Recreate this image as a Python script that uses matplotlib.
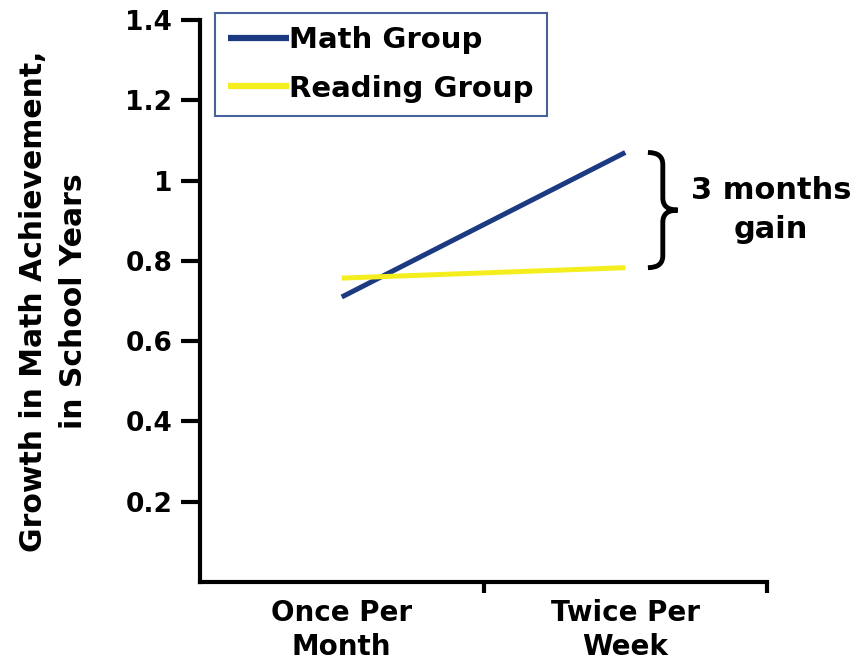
import matplotlib
matplotlib.use("Agg")
import matplotlib.pyplot as plt
from matplotlib.path import Path
from matplotlib.patches import PathPatch

# data
groups = ["Math Group", "Reading Group"]
math_growth = [0.71, 1.07]
reading_growth = [0.757, 0.783]
categories = ["Once Per\nMonth", "Twice Per\nWeek"]
yticks = [0.2, 0.4, 0.6, 0.8, 1.0, 1.2, 1.4]
ytick_labels = ["0.2", "0.4", "0.6", "0.8", "1", "1.2", "1.4"]
gain_label = "3 months\ngain"

navy = "#1b3a82"
yellow = "#f4ee1e"

plt.rcParams["font.family"] = ["DejaVu Sans"]
plt.rcParams["font.weight"] = "bold"

fig = plt.figure(figsize=(8.5, 6.64), dpi=100)
ax = fig.add_axes([200 / 850, 82 / 664, 567 / 850, 562 / 664])

# categories centred at 0.5 and 1.5, boundaries at 0, 1, 2
x = [0.5, 1.5]
l1, = ax.plot(x, math_growth, color=navy, lw=3.6, solid_capstyle="butt")
l2, = ax.plot(x, reading_growth, color=yellow, lw=3.6, solid_capstyle="butt")

ax.set_xlim(0, 2)
ax.set_ylim(0, 1.4)

for s in ["top", "right"]:
    ax.spines[s].set_visible(False)
for s in ["left", "bottom"]:
    ax.spines[s].set_linewidth(3)

ax.set_yticks(yticks)
ax.set_yticklabels(ytick_labels, fontsize=19, fontweight="bold")
ax.tick_params(axis="y", length=14, width=3, pad=6)

ax.set_xticks([1, 2])
ax.set_xticklabels(["", ""])
ax.tick_params(axis="x", which="major", length=8, width=3, direction="out")
ax.set_xticks(x, minor=True)
ax.set_xticklabels(categories, minor=True, fontsize=20, fontweight="bold",
                   linespacing=1.3)
ax.tick_params(axis="x", which="minor", length=0, pad=12)

ax.set_ylabel("Growth in Math Achievement,\nin School Years", fontsize=21.5,
              fontweight="bold", linespacing=1.45)
ax.yaxis.set_label_coords(-0.198, 0.5)

# curly brace spanning the gap between the two end points
y0, y1 = reading_growth[1], math_growth[1]
bx, bw = 1.58, 0.105
ym = (y0 + y1) / 2
r = 0.03
verts = [
    (bx, y1), (bx + bw / 2, y1), (bx + bw / 2, y1 - r),
    (bx + bw / 2, ym + r),
    (bx + bw / 2, ym), (bx + bw, ym),
    (bx + bw / 2, ym), (bx + bw / 2, ym - r),
    (bx + bw / 2, y0 + r),
    (bx + bw / 2, y0), (bx, y0),
]
codes = [Path.MOVETO, Path.CURVE3, Path.CURVE3, Path.LINETO,
         Path.CURVE3, Path.CURVE3, Path.CURVE3, Path.CURVE3,
         Path.LINETO, Path.CURVE3, Path.CURVE3]
ax.add_patch(PathPatch(Path(verts, codes), fill=False, lw=3.5,
                       edgecolor="black", clip_on=False))
ax.text(2.014, ym, gain_label, ha="center", va="center", fontsize=22,
        fontweight="bold", linespacing=1.45, clip_on=False)

leg = ax.legend([l1, l2], groups, loc="upper left",
                bbox_to_anchor=(215 / 850, 1 - 13 / 664),
                bbox_transform=fig.transFigure, fancybox=False,
                handlelength=2.1, handletextpad=0.0, borderpad=0.45,
                labelspacing=0.7, borderaxespad=0,
                prop={"size": 21, "weight": "bold"})
leg.get_frame().set_edgecolor(navy)
leg.get_frame().set_linewidth(1.5)
for line in leg.get_lines():
    line.set_linewidth(4.5)

fig.savefig("out.png", dpi=100)
